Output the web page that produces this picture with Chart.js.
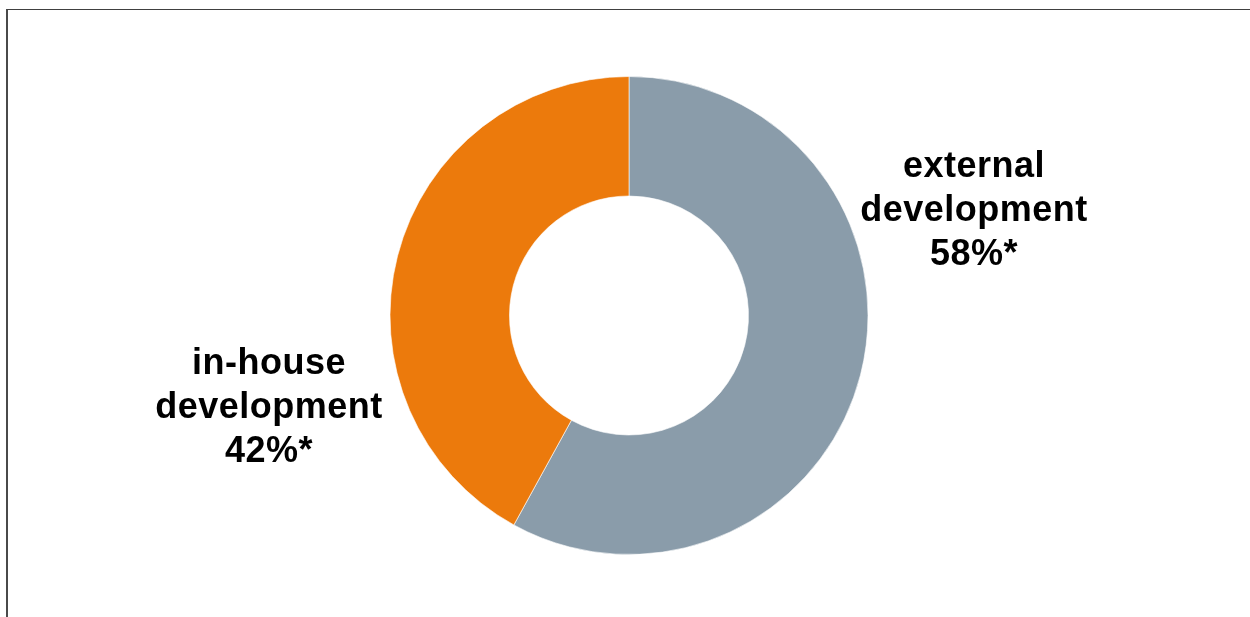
<!DOCTYPE html>
<html>
<head>
<meta charset="utf-8">
<script src="https://cdn.jsdelivr.net/npm/chart.js@4/dist/chart.umd.min.js"></script>
<style>
    html, body { margin: 0; padding: 0; background: #fff; overflow: hidden; }
    #wrap { position: relative; width: 1250px; height: 617px; }
    #frame {
        position: absolute; left: 6px; top: 9px; right: -10px; bottom: -10px;
        border-left: 2px solid #4a4a4a; border-top: 1px solid #404040;
    }
    canvas { position: absolute; left: 0; top: 0; }
</style>
</head>
<body>
<div id="wrap">
    <div id="frame"></div>
    <canvas id="chart" width="1250" height="617"></canvas>
</div>
<script>
var categories = [['external', 'development'], ['in-house', 'development']];
var shares = [58, 42];
var sliceColors = ['#8a9caa', '#ec7a0c'];

// writes each slice's name and share beside the ring
var sideLabels = {
    id: 'sideLabels',
    afterDatasetsDraw: function (chart, args, opts) {
        var ctx = chart.ctx;
        var arcs = chart.getDatasetMeta(0).data;
        ctx.save();
        ctx.font = 'bold 36px "Liberation Sans", Arial, sans-serif';
        ctx.letterSpacing = '0.5px';
        ctx.fillStyle = '#000';
        ctx.textAlign = 'center';
        ctx.textBaseline = 'middle';
        for (var i = 0; i < arcs.length; i++) {
            var arc = arcs[i];
            var off = opts.offsets[i];
            var x = arc.x + off[0];
            var y = arc.y + off[1];
            var lines = chart.data.labels[i].concat([chart.data.datasets[0].data[i] + '%*']);
            for (var j = 0; j < lines.length; j++) {
                ctx.fillText(lines[j], x, y + (j - 1) * opts.lineHeight);
            }
        }
        ctx.restore();
    }
};

new Chart(document.getElementById('chart'), {
    type: 'doughnut',
    data: {
        labels: categories,
        datasets: [{
            data: shares,
            backgroundColor: sliceColors,
            borderColor: 'rgba(255,255,255,0.6)',
            borderWidth: 1
        }]
    },
    options: {
        responsive: false,
        animation: false,
        cutout: '50%',
        layout: { padding: { top: 76, bottom: 62, left: 300, right: 292 } },
        plugins: {
            legend: { display: false },
            tooltip: { enabled: false },
            sideLabels: { offsets: [[345, -104], [-360, 93]], lineHeight: 44 }
        }
    },
    plugins: [sideLabels]
});
</script>
</body>
</html>
